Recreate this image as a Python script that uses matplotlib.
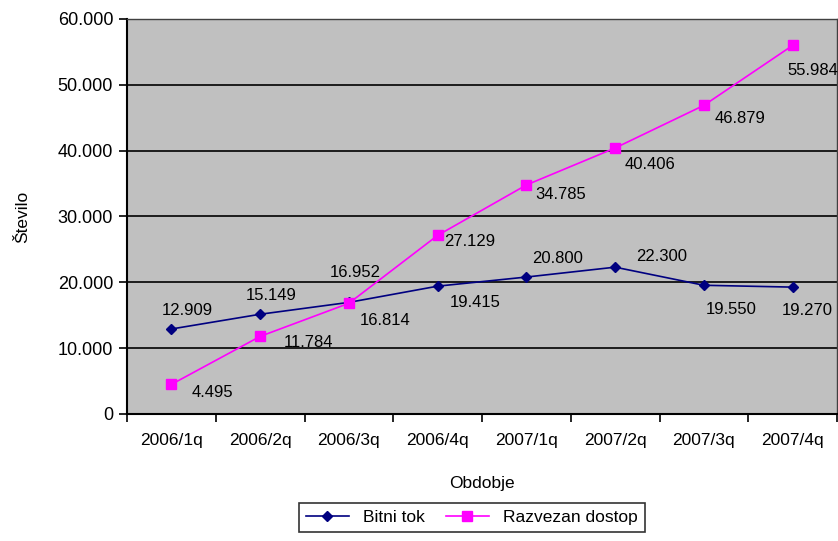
import matplotlib
matplotlib.use('Agg')
import matplotlib.pyplot as plt
from matplotlib.ticker import FuncFormatter

plt.rcParams['font.family'] = ['Liberation Sans', 'DejaVu Sans']

# Podatki
obdobja = ['2006/1q', '2006/2q', '2006/3q', '2006/4q', '2007/1q', '2007/2q', '2007/3q', '2007/4q']
bitni_tok = [12909, 15149, 16952, 19415, 20800, 22300, 19550, 19270]
razvezan_dostop = [4495, 11784, 16814, 27129, 34785, 40406, 46879, 55984]

# Odmiki oznak (v pikslih: desno, gor)
odmik_bitni = [(16, 18), (11, 19), (6, 30), (38, -16), (31, 19), (46, 11), (27, -24), (15, -23)]
odmik_razvezan = [(41, -8), (48, -6), (36, -17), (32, -6), (34, -10), (35, -17), (36, -13), (20, -25)]


def oznaka(v):
    return f'{v:,}'.replace(',', '.')


fig = plt.figure(figsize=(8.38, 5.41), dpi=100)
ax = fig.add_axes([0.1516, 0.2348, 0.8472, 0.7301])
ax.set_facecolor('#C0C0C0')

x = list(range(len(obdobja)))
ax.plot(x, bitni_tok, color='#000080', marker='D', markersize=5, linewidth=1.2, label='Bitni tok', zorder=3)
ax.plot(x, razvezan_dostop, color='#FF00FF', marker='s', markersize=7, linewidth=1.2, label='Razvezan dostop', zorder=3)

for i, v in enumerate(bitni_tok):
    dx, dy = odmik_bitni[i]
    ax.annotate(oznaka(v), (x[i], v), xytext=(dx * 0.72, dy * 0.72), textcoords='offset points',
                ha='center', va='center', fontsize=12, color='black', zorder=4)
for i, v in enumerate(razvezan_dostop):
    dx, dy = odmik_razvezan[i]
    ax.annotate(oznaka(v), (x[i], v), xytext=(dx * 0.72, dy * 0.72), textcoords='offset points',
                ha='center', va='center', fontsize=12, color='black', zorder=4)

ax.set_xlim(-0.5, len(obdobja) - 0.5)
ax.set_ylim(0, 60000)
ax.set_yticks(range(0, 60001, 10000))
ax.yaxis.set_major_formatter(FuncFormatter(lambda v, p: oznaka(int(v))))
ax.set_xticks(x)
ax.set_xticklabels(obdobja)
ax.set_xticks([i - 0.5 for i in range(len(obdobja) + 1)], minor=True)
ax.tick_params(axis='x', which='major', length=0, pad=14, labelsize=12.5)
ax.tick_params(axis='x', which='minor', length=6, width=1.2, direction='out')
ax.tick_params(axis='y', length=6, width=1.2, direction='out', labelsize=13, pad=4)
ax.grid(axis='y', color='black', linewidth=1.2)
ax.set_axisbelow(True)
for s in ['top', 'right']:
    ax.spines[s].set_color('#404040')
    ax.spines[s].set_linewidth(1)
for s in ['left', 'bottom']:
    ax.spines[s].set_linewidth(1.5)

ax.set_xlabel('Obdobje', fontsize=12.5, labelpad=20)
ax.set_ylabel('Število', fontsize=12.5, labelpad=20)

leg = fig.legend(loc='upper center', bbox_to_anchor=(0.563, 0.086), ncol=2, frameon=True,
                 fancybox=False, edgecolor='black', fontsize=12.5, handlelength=2.5,
                 columnspacing=1.2, borderpad=0.4)
leg.get_frame().set_linewidth(1.2)

fig.savefig('out.png', dpi=100)
